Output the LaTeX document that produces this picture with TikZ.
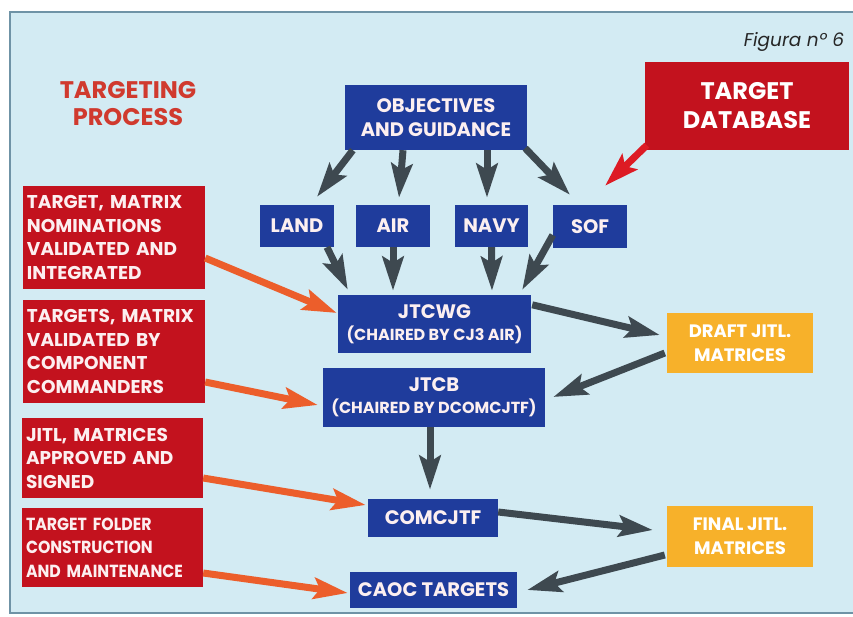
\documentclass[tikz,border=0pt]{standalone}
\usepackage{fontspec}
\setmainfont{Poppins}
\newfontfamily\condfont{Poppins}[FakeStretch=0.9]
\usetikzlibrary{arrows.meta,calc}
\definecolor{panel}{HTML}{D3EBF3}
\definecolor{panelline}{HTML}{6F93A6}
\definecolor{boxblue}{HTML}{1F3C9C}
\definecolor{boxred}{HTML}{C3121E}
\definecolor{boxyellow}{HTML}{F7B12A}
\definecolor{arrgray}{HTML}{3E4950}
\definecolor{arrorange}{HTML}{EC5E2B}
\definecolor{arrred}{HTML}{DD1B24}
\definecolor{titlered}{HTML}{D03A2E}
\definecolor{boxtext}{HTML}{FCEFF0}
\tikzset{
  bluebox/.style={fill=boxblue, text=boxtext, font=\bfseries\fontsize{19.5}{24}\selectfont, align=center, inner sep=0pt},
  redbox/.style={fill=boxred, text=boxtext, font=\bfseries\fontsize{18.5}{23.5}\selectfont, align=left, inner sep=0pt},
  yellowbox/.style={fill=boxyellow, text=white, font=\bfseries\fontsize{18}{24}\selectfont, align=center, inner sep=0pt},
  tipstyle/.style={-{Stealth[length=34pt,width=21pt,inset=6pt]}},
  garrow/.style={draw=arrgray, line width=7pt, tipstyle},
  oarrow/.style={draw=arrorange, line width=7pt, tipstyle},
  rarrow/.style={draw=arrred, line width=7pt, tipstyle},
}
\begin{document}
\begin{tikzpicture}[x=1pt,y=-1pt]
\useasboundingbox (0,0) rectangle (853,616);
\fill[white] (0,0) rectangle (853,616);
\draw[fill=panel, draw=panelline, line width=1.2pt] (10,12) rectangle (860,613);

% titles
\node[text=titlered, font=\bfseries\fontsize{24}{27}\selectfont, align=center] (title) at (128,104) {TARGETING\\PROCESS};
\node[text=black!85, font=\itshape\fontsize{18.5}{20}\selectfont] (fig) at (794,42) {Figura nº 6};

% blue boxes
\node[bluebox, minimum width=182pt, minimum height=65pt] (obj) at (436,117.5) {OBJECTIVES\\AND GUIDANCE};
\node[bluebox, minimum width=74pt, minimum height=42pt] (land) at (297,226) {LAND};
\node[bluebox, minimum width=74pt, minimum height=42pt] (air) at (393,226) {AIR};
\node[bluebox, minimum width=73pt, minimum height=42pt] (navy) at (491.5,226) {NAVY};
\node[bluebox, minimum width=74pt, minimum height=43pt] (sof) at (590,226.5) {SOF};
\node[bluebox, minimum width=193pt, minimum height=58pt] (jtcwg) at (434.5,324) {JTCWG\\[-2pt]{\fontsize{16}{18}\selectfont (CHAIRED BY CJ3 AIR)}};
\node[bluebox, minimum width=222pt, minimum height=59pt] (jtcb) at (434,397.5) {JTCB\\[-2pt]{\fontsize{16}{18}\selectfont (CHAIRED BY DCOMCJTF)}};
\node[bluebox, minimum width=130pt, minimum height=38pt] (comcjtf) at (433,518) {COMCJTF};
\node[bluebox, minimum width=167pt, minimum height=36pt] (caoc) at (433.5,590) {CAOC TARGETS};

% target database
\node[fill=boxred, text=white, font=\bfseries\fontsize{24}{29}\selectfont, align=center, minimum width=204pt, minimum height=88pt, inner sep=0pt] (tdb) at (747,106) {TARGET\\DATABASE};

% yellow boxes
\node[yellowbox, minimum width=146pt, minimum height=60pt] (draft) at (740,343) {DRAFT JITL.\\MATRICES};
\node[yellowbox, minimum width=146pt, minimum height=61pt] (final) at (740,536.5) {FINAL JITL.\\MATRICES};

% red boxes
\node[redbox, minimum width=182pt, minimum height=103pt, text width=174pt] (r1) at (114,237.5) {TARGET, MATRIX\\NOMINATIONS\\VALIDATED AND\\INTEGRATED};
\node[redbox, minimum width=182pt, minimum height=103pt, text width=174pt] (r2) at (114,351.5) {TARGETS, MATRIX\\VALIDATED BY\\COMPONENT\\COMMANDERS};
\node[redbox, minimum width=181pt, minimum height=80pt, text width=173pt] (r3) at (112.5,458) {JITL, MATRICES\\APPROVED AND\\SIGNED};
\node[redbox, font=\condfont\bfseries\fontsize{17.5}{23.5}\selectfont, minimum width=181pt, minimum height=79pt, text width=173pt] (r4) at (112.5,547.5) {TARGET FOLDER\\CONSTRUCTION\\AND MAINTENANCE};

% gray arrows
\draw[garrow] ($(obj.south west)+(8,0)$) -- ($(land.north)+(20,-8)$);
\draw[garrow] ($(obj.south)+(-33,0)$) -- ($(air.north)+(6,-7)$);
\draw[garrow] ($(obj.south)+(51,0)$) -- ($(navy.north)+(-4.5,-7)$);
\draw[garrow] ($(obj.south east)+(-2,-2)$) -- ($(sof.north)+(-20,-10)$);
\draw[garrow] ($(land.south)+(30,0)$) -- ($(jtcwg.north west)+(10,-5)$);
\draw[garrow] (air.south) -- ($(jtcwg.north)+(-41.5,-4)$);
\draw[garrow] (navy.south) -- ($(jtcwg.north)+(57.5,-4)$);
\draw[garrow] ($(sof.west)+(0,8.5)$) -- ($(jtcwg.north east)+(-9,-5)$);
\draw[garrow] ($(jtcwg.north east)+(1,10)$) -- ($(draft.west)+(-7,-8)$);
\draw[garrow] ($(draft.west)+(-2,10)$) -- ($(jtcb.east)+(8,-0.5)$);
\draw[garrow] ($(jtcb.south)+(-4,0)$) -- ($(comcjtf.north)+(-3,-9)$);
\draw[garrow] ($(comcjtf.east)+(0,-6)$) -- ($(final.west)+(-14,-6.5)$);
\draw[garrow] ($(final.west)+(-2,18.5)$) -- ($(caoc.east)+(10,0)$);

% red arrow
\draw[rarrow] ($(tdb.south west)+(2,-5)$) -- ($(sof.north)+(15,-19)$);

% orange arrows
\draw[oarrow] ($(r1.east)+(0,20.5)$) -- ($(jtcwg.west)+(-1,-11)$);
\draw[oarrow] ($(r2.east)+(0,30.5)$) -- ($(jtcb.west)+(-5,7.5)$);
\draw[oarrow] ($(r3.east)+(0,20)$) -- ($(comcjtf.west)+(-2,-13)$);
\draw[oarrow] ($(r4.east)+(0,25.5)$) -- ($(caoc.west)+(-2,3)$);
\end{tikzpicture}
\end{document}
